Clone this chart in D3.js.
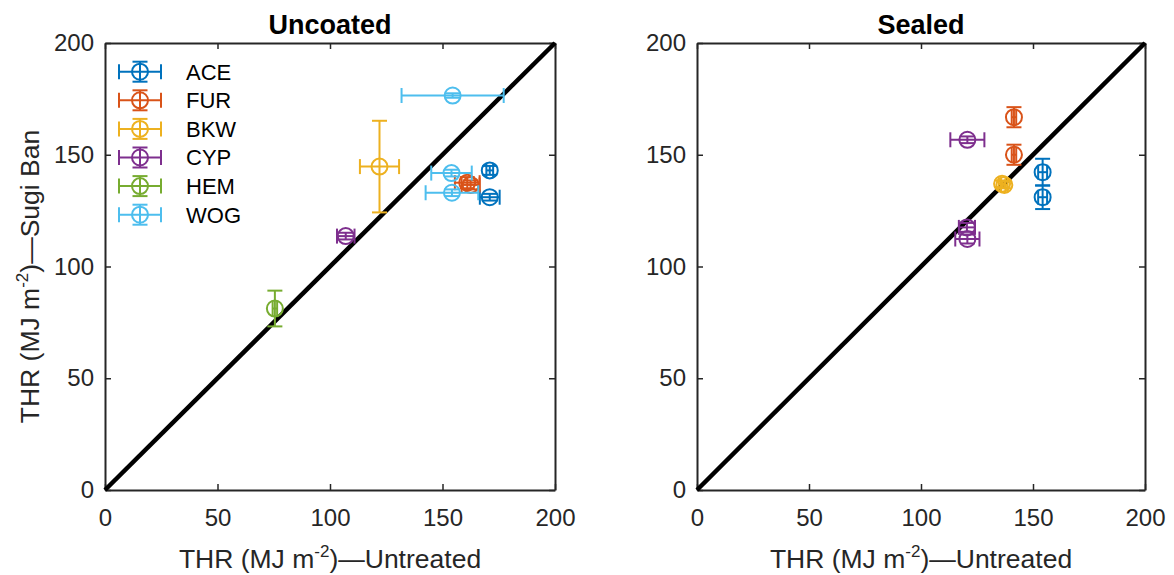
<!DOCTYPE html>
<html><head><meta charset="utf-8">
<script src="https://cdn.jsdelivr.net/npm/d3@7"></script>
<style>body{margin:0;background:#fff;}svg{display:block;font-family:"Liberation Sans",Arial,sans-serif;}</style>
</head><body>
<svg id="chart" width="1174" height="575"></svg>
<script>
const speciesNames = ["ACE","FUR","BKW","CYP","HEM","WOG"];
const speciesColors = ["#0072BD","#D95319","#EDB120","#7E2F8E","#77AC30","#4DBEEE"];
const tickValues = [0,50,100,150,200];
const panelTitles = ["Uncoated","Sealed"];

// Uncoated panel
const uncSpecies = ["ACE","ACE","FUR","FUR","BKW","CYP","HEM","WOG","WOG","WOG"];
const uncX =    [171, 171, 161, 162.5, 122, 107, 75.5, 154.5, 154, 154.2];
const uncY =    [143, 131, 137.5, 136.5, 144.7, 113.6, 81.2, 176.5, 141.8, 133];
const uncXErr = [1.5, 4.4, 5.5, 4, 8.7, 3.9, 1, 22.7, 9, 11.7];
const uncYErr = [2, 1.5, 2.5, 2, 20.5, 1.5, 8, 1, 1.5, 1.5];

// Sealed panel
const selSpecies = ["ACE","ACE","FUR","FUR","BKW","BKW","CYP","CYP","CYP"];
const selX =    [154.3, 154.3, 141.5, 141.5, 136.2, 137.2, 120.7, 120.5, 120.7];
const selY =    [142.2, 131, 166.8, 150, 137, 136.5, 156.7, 117.5, 112.3];
const selXErr = [2, 2, 1, 1, 1.5, 1.5, 7.6, 3.6, 5.4];
const selYErr = [6, 5.3, 4.5, 4.5, 1.5, 1.5, 1.5, 2, 2];

const svg = d3.select("#chart");
const ink = "#262626";
const panels = [
  {x0:105, x1:555, y0:43, y1:490, title:panelTitles[0], sp:uncSpecies, xs:uncX, ys:uncY, xe:uncXErr, ye:uncYErr, legend:true, ylabel:true},
  {x0:697, x1:1145, y0:43, y1:490, title:panelTitles[1], sp:selSpecies, xs:selX, ys:selY, xe:selXErr, ye:selYErr, legend:false, ylabel:false}
];
const color = d3.scaleOrdinal().domain(speciesNames).range(speciesColors);
const R = 8, CAP = 7.5, LW = 2;

function drawErr(g, cx, cy, xl, xr, yt, yb, c) {
  const p = g.append("g").attr("stroke", c).attr("stroke-width", LW).attr("fill", "none");
  p.append("line").attr("x1", xl).attr("x2", xr).attr("y1", cy).attr("y2", cy);
  p.append("line").attr("x1", xl).attr("x2", xl).attr("y1", cy-CAP).attr("y2", cy+CAP);
  p.append("line").attr("x1", xr).attr("x2", xr).attr("y1", cy-CAP).attr("y2", cy+CAP);
  p.append("line").attr("x1", cx).attr("x2", cx).attr("y1", yt).attr("y2", yb);
  p.append("line").attr("x1", cx-CAP).attr("x2", cx+CAP).attr("y1", yt).attr("y2", yt);
  p.append("line").attr("x1", cx-CAP).attr("x2", cx+CAP).attr("y1", yb).attr("y2", yb);
  p.append("circle").attr("cx", cx).attr("cy", cy).attr("r", R);
}

function labelText(t, tail) {
  t.append("tspan").text("THR (MJ m");
  t.append("tspan").attr("font-size", 17).attr("dy", -11).text("-2");
  t.append("tspan").attr("dy", 11).text(tail);
}

panels.forEach(P => {
  const x = d3.scaleLinear().domain([0,200]).range([P.x0, P.x1]);
  const y = d3.scaleLinear().domain([0,200]).range([P.y1, P.y0]);
  const g = svg.append("g");

  const ax = g.append("g").attr("transform", `translate(0,${P.y1})`)
    .call(d3.axisBottom(x).tickValues(tickValues).tickSizeInner(-6).tickSizeOuter(0).tickPadding(19));
  const axT = g.append("g").attr("transform", `translate(0,${P.y0})`)
    .call(d3.axisTop(x).tickValues(tickValues).tickSizeInner(-6).tickSizeOuter(0).tickFormat(""));
  const ay = g.append("g").attr("transform", `translate(${P.x0},0)`)
    .call(d3.axisLeft(y).tickValues(tickValues).tickSizeInner(-6).tickSizeOuter(0).tickPadding(11));
  const ayR = g.append("g").attr("transform", `translate(${P.x1},0)`)
    .call(d3.axisRight(y).tickValues(tickValues).tickSizeInner(-6).tickSizeOuter(0).tickFormat(""));
  [ax, axT, ay, ayR].forEach(a => {
    a.select(".domain").attr("stroke", ink).attr("stroke-width", 2);
    a.selectAll(".tick line").attr("stroke", ink).attr("stroke-width", 1.5);
    a.selectAll(".tick text").attr("font-size", 24).attr("fill", ink)
      .attr("font-family", '"Liberation Sans",Arial,sans-serif');
  });
  ax.selectAll(".tick text").attr("dy", "0.71em");

  g.append("line").attr("x1", x(0)).attr("y1", y(0)).attr("x2", x(200)).attr("y2", y(200))
    .attr("stroke", "#000").attr("stroke-width", 4.5);

  P.sp.forEach((s, i) => {
    drawErr(g, x(P.xs[i]), y(P.ys[i]), x(P.xs[i]-P.xe[i]), x(P.xs[i]+P.xe[i]),
      y(P.ys[i]+P.ye[i]), y(P.ys[i]-P.ye[i]), color(s));
  });

  g.append("text").attr("x", (P.x0+P.x1)/2).attr("y", 34).attr("text-anchor","middle")
    .attr("font-size", 27).attr("font-weight","bold").attr("fill","#000").text(P.title);

  const xl = g.append("text").attr("x", (P.x0+P.x1)/2).attr("y", 568).attr("text-anchor","middle")
    .attr("font-size", 26.5).attr("fill", ink);
  labelText(xl, ")—Untreated");

  if (P.ylabel) {
    const t = g.append("text").attr("transform", `translate(39,${(P.y0+P.y1)/2 + 10}) rotate(-90)`)
      .attr("text-anchor","middle").attr("font-size", 26.5).attr("fill", ink);
    labelText(t, ")—Sugi Ban");
  }

  if (P.legend) {
    speciesNames.forEach((s, i) => {
      const cy = 71.7 + i*28.6, cx = 140;
      const lg = g.append("g");
      drawErr(lg, cx, cy, cx-21, cx+21, cy-10, cy+10, color(s));
      lg.append("text").attr("x", 186).attr("y", cy).attr("dy","0.36em")
        .attr("font-size", 22).attr("fill","#000").text(s);
    });
  }
});
</script>
</body></html>
